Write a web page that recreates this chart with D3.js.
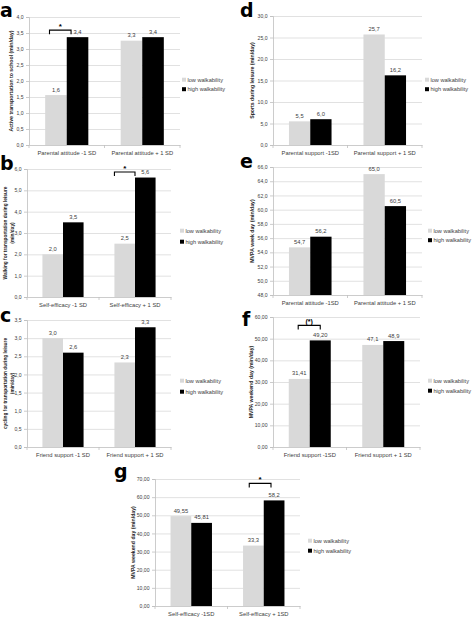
<!DOCTYPE html>
<html><head><meta charset="utf-8">
<script src="https://cdn.jsdelivr.net/npm/d3@7"></script>
<style>
html,body{margin:0;padding:0;background:#fff;}
svg{display:block;font-family:"Liberation Sans",Arial,sans-serif;}
</style></head>
<body><svg id="chart" width="473" height="617"></svg>
<script>
const legendLabels = ["low walkability", "high walkability"];

const catsA = ["Parental attitude -1 SD", "Parental attitude + 1 SD"];
const lowA = [1.56, 3.26];
const highA = [3.37, 3.37];
const lowLabA = ["1,6", "3,3"];
const highLabA = ["3,4", "3,4"];
const ticksA = [0, 0.5, 1, 1.5, 2, 2.5, 3, 3.5, 4];

const catsB = ["Self-efficacy -1 SD", "Self-efficacy + 1 SD"];
const lowB = [2.0, 2.5];
const highB = [3.5, 5.6];
const lowLabB = ["2,0", "2,5"];
const highLabB = ["3,5", "5,6"];
const ticksB = [0, 1, 2, 3, 4, 5, 6];

const catsC = ["Friend support -1 SD", "Friend support + 1 SD"];
const lowC = [3.0, 2.33];
const highC = [2.6, 3.3];
const lowLabC = ["3,0", "2,3"];
const highLabC = ["2,6", "3,3"];
const ticksC = [0, 0.5, 1, 1.5, 2, 2.5, 3, 3.5];

const catsD = ["Parental support -1SD", "Parental support + 1 SD"];
const lowD = [5.5, 25.7];
const highD = [6.0, 16.2];
const lowLabD = ["5,5", "25,7"];
const highLabD = ["6,0", "16,2"];
const ticksD = [0, 5, 10, 15, 20, 25, 30];

const catsE = ["Parental attitude -1SD", "Parental attitude + 1 SD"];
const lowE = [54.7, 65.0];
const highE = [56.2, 60.5];
const lowLabE = ["54,7", "65,0"];
const highLabE = ["56,2", "60,5"];
const ticksE = [48, 50, 52, 54, 56, 58, 60, 62, 64, 66];

const catsF = ["Friend support -1SD", "Friend support + 1 SD"];
const lowF = [31.41, 47.1];
const highF = [49.2, 48.9];
const lowLabF = ["31,41", "47,1"];
const highLabF = ["49,20", "48,9"];
const ticksF = [0, 10, 20, 30, 40, 50, 60];

const catsG = ["Self-efficacy -1SD", "Self-efficacy + 1SD"];
const lowG = [49.55, 33.3];
const highG = [45.81, 58.2];
const lowLabG = ["49,55", "33,3"];
const highLabG = ["45,81", "58,2"];
const ticksG = [0, 10, 20, 30, 40, 50, 60, 70];

const svg = d3.select("#chart");
const LOW = "#d9d9d9", HIGH = "#000000", GRID = "#d9d9d9", AXIS = "#bfbfbf", TXT = "#404040";

function panel(p) {
  const g = svg.append("g");
  const x = d3.scaleBand().domain(p.cats).range([p.x0, p.x1]);
  const y = d3.scaleLinear().domain([p.ticks[0], p.ticks[p.ticks.length - 1]]).range([p.yb, p.yt]);
  const W = p.x1 - p.x0;

  const grid = g.append("g").attr("transform", `translate(${p.x0},0)`)
    .call(d3.axisLeft(y).tickValues(p.ticks.slice(1)).tickSize(-W).tickFormat(""));
  grid.select(".domain").remove();
  grid.selectAll("line").attr("stroke", GRID).attr("stroke-width", 0.8);

  const ya = g.append("g").attr("transform", `translate(${p.x0},0)`)
    .call(d3.axisLeft(y).tickValues(p.ticks).tickSize(3).tickPadding(2.5)
      .tickFormat(d => d3.format(p.fmt)(d).replace(".", ",")));
  ya.select(".domain").attr("stroke", AXIS).attr("stroke-width", 0.8);
  ya.selectAll("line").attr("stroke", AXIS).attr("stroke-width", 0.8);
  ya.selectAll("text").attr("font-size", 5.1).attr("fill", TXT);

  const xa = g.append("g").attr("transform", `translate(0,${p.yb})`)
    .call(d3.axisBottom(x).tickSize(0).tickPadding(6));
  xa.select(".domain").attr("stroke", AXIS).attr("stroke-width", 0.8);
  xa.selectAll("text").attr("font-size", 5.8).attr("fill", TXT);
  const bounds = [p.x0, p.x0 + x.bandwidth(), p.x1];
  g.selectAll(".btick").data(bounds).enter().append("line")
    .attr("x1", d => d).attr("x2", d => d).attr("y1", p.yb).attr("y2", p.yb + 3)
    .attr("stroke", AXIS).attr("stroke-width", 0.8);

  const bw = x.bandwidth() / 1.75 / 2;
  const off = (x.bandwidth() - 2 * bw) / 2;
  const rows = p.cats.map((c, i) => ({c, i}));
  const series = [
    {vals: p.low, labs: p.lowLab, color: LOW, k: 0},
    {vals: p.high, labs: p.highLab, color: HIGH, k: 1}
  ];
  series.forEach(s => {
    g.selectAll(null).data(rows).enter().append("rect")
      .attr("x", d => x(d.c) + off + s.k * bw)
      .attr("width", bw)
      .attr("y", d => y(s.vals[d.i]))
      .attr("height", d => y(p.ticks[0]) - y(s.vals[d.i]))
      .attr("fill", s.color);
    g.selectAll(null).data(rows).enter().append("text")
      .attr("x", d => x(d.c) + off + s.k * bw + bw / 2)
      .attr("y", d => y(s.vals[d.i]) - 3.5)
      .attr("text-anchor", "middle").attr("font-size", 5.8).attr("fill", TXT)
      .text(d => s.labs[d.i]);
  });

  if (p.sig) {
    const ci = p.sig.cat;
    const c = p.cats[ci];
    const xl = x(c) + off + p.sig.f * bw;
    const xr = x(c) + off + bw + p.sig.f2 * bw;
    const top = y(Math.max(p.low[ci], p.high[ci])) - p.sig.h;
    g.append("path")
      .attr("d", `M${xl},${top + 4}V${top}H${xr}V${top + 4}`)
      .attr("fill", "none").attr("stroke", "#000").attr("stroke-width", 1.1);
    g.append("text").attr("x", (xl + xr) / 2).attr("y", top - 1.5)
      .attr("text-anchor", "middle").attr("font-size", p.sig.fs).attr("font-weight", "bold")
      .text(p.sig.text);
  }

  const cy = (p.yb + p.yt) / 2;
  const t = g.append("text").attr("transform", `translate(${p.tx},${cy}) rotate(-90)`)
    .attr("text-anchor", "middle").attr("font-size", p.tfs).attr("font-weight", "bold").attr("fill", "#222");
  p.title.forEach((line, i) => {
    t.append("tspan").attr("x", 0).attr("dy", i === 0 ? 0 : 7).text(line);
  });

  legendLabels.forEach((lab, i) => {
    g.append("rect").attr("x", p.lx).attr("y", p.ly + i * p.lstep - 2.3).attr("width", 4).attr("height", 4)
      .attr("fill", i === 0 ? LOW : HIGH);
    g.append("text").attr("x", p.lx + 5.5).attr("y", p.ly + i * p.lstep).attr("dy", "0.35em")
      .attr("font-size", 5.6).attr("fill", TXT).text(lab);
  });

  g.append("text").attr("x", p.px).attr("y", p.py).attr("font-size", 19).attr("font-weight", "bold")
    .attr("font-family", "DejaVu Sans").attr("fill", "#000").text(p.letter);
}

panel({letter: "a", px: 0, py: 17, cats: catsA, low: lowA, high: highA, lowLab: lowLabA, highLab: highLabA,
  ticks: ticksA, fmt: ".1f", x0: 29, x1: 180, yb: 145, yt: 17, tx: 13, tfs: 5.2, title: ["Active transportation to school (min/day)"],
  lx: 182, ly: 80, lstep: 9.5, sig: {cat: 0, f: 0.2, f2: 0.2, h: 7, text: "*", fs: 8}});

panel({letter: "b", px: 0, py: 170, cats: catsB, low: lowB, high: highB, lowLab: lowLabB, highLab: highLabB,
  ticks: ticksB, fmt: ".1f", x0: 27, x1: 171, yb: 297, yt: 169, tx: 7, tfs: 4.8, title: ["Walking for transportation during leisure", "(min/day)"],
  lx: 180, ly: 231, lstep: 11, sig: {cat: 1, f: 0, f2: 0, h: 5.5, text: "*", fs: 8}});

panel({letter: "c", px: 0, py: 322, cats: catsC, low: lowC, high: highC, lowLab: lowLabC, highLab: highLabC,
  ticks: ticksC, fmt: ".1f", x0: 27, x1: 171, yb: 447, yt: 320, tx: 7, tfs: 4.8, title: ["cycling for transportation during leisure", "(min/day)"],
  lx: 180, ly: 381, lstep: 11});

panel({letter: "d", px: 240, py: 17, cats: catsD, low: lowD, high: highD, lowLab: lowLabD, highLab: highLabD,
  ticks: ticksD, fmt: ".1f", x0: 273, x1: 422, yb: 145, yt: 16, tx: 254, tfs: 5.2, title: ["Sports during leisure (min/day)"],
  lx: 425, ly: 80, lstep: 9.5});

panel({letter: "e", px: 240, py: 168, cats: catsE, low: lowE, high: highE, lowLab: lowLabE, highLab: highLabE,
  ticks: ticksE, fmt: ".1f", x0: 273, x1: 422, yb: 295, yt: 167, tx: 254, tfs: 5.2, title: ["MVPA week day (min/day)"],
  lx: 428, ly: 231, lstep: 9.5});

panel({letter: "f", px: 242, py: 326, cats: catsF, low: lowF, high: highF, lowLab: lowLabF, highLab: highLabF,
  ticks: ticksF, fmt: ".2f", x0: 273, x1: 420, yb: 447, yt: 317, tx: 253, tfs: 5.2, title: ["MVPA weekend day (min/day)"],
  lx: 428, ly: 381, lstep: 10, sig: {cat: 0, f: 0.45, f2: 0.5, h: 15, text: "(*)", fs: 7}});

panel({letter: "g", px: 114, py: 478, cats: catsG, low: lowG, high: highG, lowLab: lowLabG, highLab: highLabG,
  ticks: ticksG, fmt: ".2f", x0: 155, x1: 300, yb: 606, yt: 479, tx: 135, tfs: 5.2, title: ["MVPA weekend day (min/day)"],
  lx: 308, ly: 541, lstep: 10, sig: {cat: 1, f: 0.3, f2: 0.35, h: 17, text: "*", fs: 8}});
</script>
</body></html>
